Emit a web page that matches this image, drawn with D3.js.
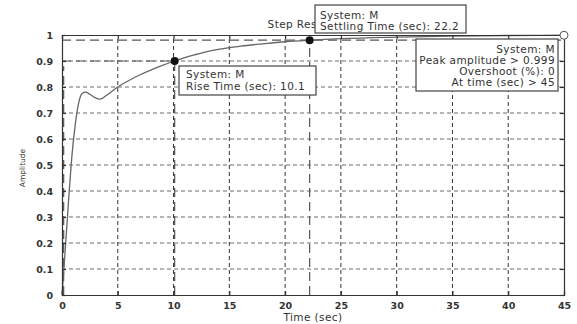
<!doctype html>
<html>
<head>
<meta charset="UTF-8">
<script src="https://d3js.org/d3.v7.min.js"></script>
<style>
  body { margin: 0; background: #fff; }
  text { font-family: "DejaVu Sans", sans-serif; }
</style>
</head>
<body>
<script>
// step response samples
const time      = [0, 0.3, 0.6, 0.9, 1.2, 1.5, 1.8, 2.1, 2.5, 3.0, 3.4, 4.0, 5, 6, 7, 8, 9, 10.1, 11, 12, 13, 14, 16, 18, 20, 22.2, 25, 30, 35, 40, 45];
const amplitude = [0, 0.18, 0.37, 0.54, 0.66, 0.74, 0.775, 0.78, 0.772, 0.758, 0.753, 0.768, 0.80, 0.825, 0.847, 0.866, 0.883, 0.90, 0.913, 0.925, 0.936, 0.945, 0.957, 0.966, 0.974, 0.98, 0.986, 0.992, 0.996, 0.998, 0.999];

const xTicks = [0, 5, 10, 15, 20, 25, 30, 35, 40, 45];
const yTicks = [0, 0.1, 0.2, 0.3, 0.4, 0.5, 0.6, 0.7, 0.8, 0.9, 1];

const riseTime = 10.1, riseLevel = 0.9, riseStart = 0.15;
const settleTime = 22.2, settleLevel = 0.98;
const peakTime = 45, peakLevel = 0.999;

const riseText   = ["System: M", "Rise Time (sec): 10.1"];
const settleText = ["System: M", "Settling Time (sec): 22.2"];
const peakText   = ["System: M", "Peak amplitude > 0.999", "Overshoot (%): 0", "At time (sec) > 45"];

const W = 577, H = 324;
const svg = d3.select("body").append("svg").attr("width", W).attr("height", H);

const x = d3.scaleLinear().domain([0, 45]).range([62, 564]);
const y = d3.scaleLinear().domain([0, 1]).range([295, 35]);

// grid
svg.append("g").selectAll("line").data(yTicks.slice(1, -1)).join("line")
  .attr("x1", x(0)).attr("x2", x(45))
  .attr("y1", d => y(d)).attr("y2", d => y(d))
  .attr("stroke", "#6a6a6a").attr("stroke-dasharray", "4,3");
svg.append("g").selectAll("line").data(xTicks.slice(1, -1)).join("line")
  .attr("y1", y(0)).attr("y2", y(1))
  .attr("x1", d => x(d)).attr("x2", d => x(d))
  .attr("stroke", "#333").attr("stroke-dasharray", "4,3");

// characteristic lines
const longDash = "9,5";
const chars = svg.append("g").attr("stroke", "#555").attr("stroke-width", 1.2).attr("stroke-dasharray", longDash);
chars.append("line").attr("x1", x(0)).attr("x2", x(riseTime)).attr("y1", y(riseLevel)).attr("y2", y(riseLevel));
chars.append("line").attr("x1", x(riseTime)).attr("x2", x(riseTime)).attr("y1", y(0)).attr("y2", y(riseLevel));
chars.append("line").attr("x1", x(riseStart)).attr("x2", x(riseStart)).attr("y1", y(0)).attr("y2", y(0.88));
chars.append("line").attr("x1", x(0)).attr("x2", x(45)).attr("y1", y(settleLevel)).attr("y2", y(settleLevel));
chars.append("line").attr("x1", x(settleTime)).attr("x2", x(settleTime)).attr("y1", y(0)).attr("y2", y(settleLevel));

// curve
const pts = time.map((t, i) => [t, amplitude[i]]);
svg.append("path").datum(pts)
  .attr("fill", "none").attr("stroke", "#666").attr("stroke-width", 1.3)
  .attr("d", d3.line().x(d => x(d[0])).y(d => y(d[1])).curve(d3.curveMonotoneX));

// axes box + inward ticks
const axB = d3.axisBottom(x).tickValues(xTicks).tickSize(-4).tickPadding(7);
const axL = d3.axisLeft(y).tickValues(yTicks).tickSize(-4).tickPadding(9).tickFormat(d3.format("~g"));
const axT = d3.axisTop(x).tickValues(xTicks).tickSize(-4).tickFormat("");
const axR = d3.axisRight(y).tickValues(yTicks).tickSize(-4).tickFormat("");
function style(g) {
  g.selectAll("path, line").attr("stroke", "#333").attr("stroke-width", 1.2);
  g.selectAll("text").attr("fill", "#333").attr("font-size", 9.5).attr("font-weight", "bold").attr("font-family", "Liberation Sans, Arial, sans-serif");
}
svg.append("g").attr("transform", `translate(0,${y(0)})`).call(axB).call(style);
svg.append("g").attr("transform", `translate(${x(0)},0)`).call(axL).call(style);
svg.append("g").attr("transform", `translate(0,${y(1)})`).call(axT).call(style);
svg.append("g").attr("transform", `translate(${x(45)},0)`).call(axR).call(style);
svg.selectAll(".domain").attr("stroke", "#333");

// labels
svg.append("text").attr("x", 313).attr("y", 321).attr("text-anchor", "middle")
  .attr("font-size", 10.5).attr("letter-spacing", 0.4).attr("fill", "#333").text("Time (sec)");
svg.append("text").attr("transform", "translate(25,168) rotate(-90)").attr("text-anchor", "middle")
  .attr("font-size", 7.5).attr("fill", "#333").text("Amplitude");
svg.append("text").attr("x", 309).attr("y", 27.5).attr("text-anchor", "middle")
  .attr("font-size", 10.5).attr("letter-spacing", 0.4).attr("fill", "#333").text("Step Response");

// markers
svg.append("circle").attr("cx", x(riseTime)).attr("cy", y(riseLevel)).attr("r", 4).attr("fill", "#111");
svg.append("circle").attr("cx", x(settleTime)).attr("cy", y(settleLevel)).attr("r", 4).attr("fill", "#111");
svg.append("circle").attr("cx", x(peakTime)).attr("cy", y(peakLevel)).attr("r", 4).attr("fill", "#fff").attr("stroke", "#555");

// annotation boxes
function box(x0, y0, w, h, lines, anchor, tx, baselines) {
  const g = svg.append("g");
  g.append("rect").attr("x", x0).attr("y", y0).attr("width", w).attr("height", h)
    .attr("fill", "#fff").attr("stroke", "#444").attr("stroke-width", 1.2);
  lines.forEach((s, i) => g.append("text").attr("x", tx).attr("y", baselines[i])
    .attr("text-anchor", anchor).attr("font-size", 10.5).attr("letter-spacing", 0.4)
    .attr("fill", "#333").text(s));
}
box(179, 66, 137, 29, riseText, "start", 186, [78, 90]);
box(315, 5, 151, 28, settleText, "start", 320, [18.5, 29.5]);
box(416, 39, 142, 52, peakText, "end", 555, [53, 64, 75, 86]);
</script>
</body>
</html>
